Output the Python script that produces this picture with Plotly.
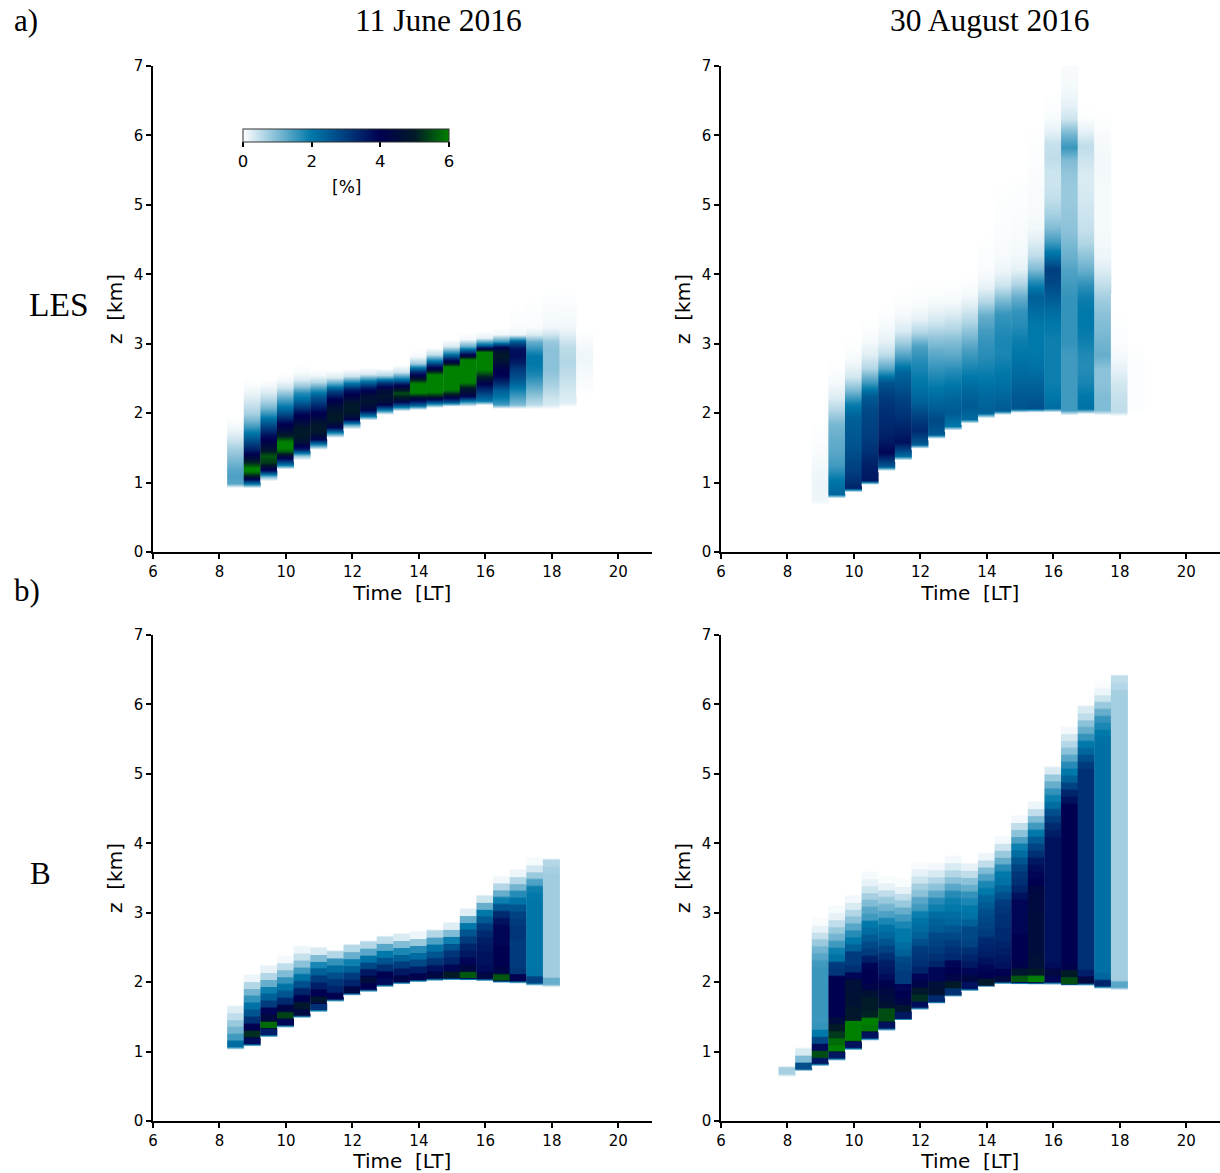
import plotly.graph_objects as go

# ---- data: each column = one half-hour profile. base = bottom height [km], values every 0.1 or 0.2 km ----
TICKS_X = [6, 8, 10, 12, 14, 16, 18, 20]
TICKS_Y = [0, 1, 2, 3, 4, 5, 6, 7]
CB_TICKS = [0, 2, 4, 6]

times_les_jun = [8.5, 9, 9.5, 10, 10.5, 11, 11.5, 12, 12.5, 13, 13.5, 14, 14.5, 15, 15.5, 16, 16.5, 17, 17.5, 18, 18.5, 19]
bases_les_jun = [.93, .93, 1.03, 1.2, 1.33, 1.48, 1.65, 1.77, 1.9, 1.98, 2.03, 2.05, 2.08, 2.1, 2.1, 2.12, 2.07, 2.07, 2.07, 2.07, 2.1, 2.28]
profiles_les_jun = [
    [1.3, 1.4, 1.3, 1.1, .9, .7, .45, .25, .1, .03],
    [2.0, 4.8, 6.3, 5.2, 4.2, 3.4, 2.8, 2.2, 1.6, 1.1, .7, .5, .3, .15, .05],
    [1.0, 4.0, 5.3, 5.6, 4.7, 4.2, 3.7, 3.0, 2.3, 1.6, 1.0, .6, .3, .1],
    [2.0, 4.0, 5.7, 6.4, 5.2, 4.4, 3.9, 3.0, 2.2, 1.6, 1.0, .4, .1],
    [.8, 3.6, 4.6, 5.0, 4.9, 4.3, 3.9, 3.0, 2.2, 1.7, .8, .25, .05],
    [1.5, 4.2, 4.9, 4.9, 4.3, 3.8, 3.1, 2.5, 1.6, .6, .1],
    [1.5, 4.2, 5.0, 4.9, 4.5, 3.9, 3.0, 1.5, .3],
    [1.2, 4.4, 5.0, 4.9, 4.3, 3.6, 2.0, .4],
    [2.0, 4.3, 4.8, 4.5, 3.6, 2.0, .3],
    [1.8, 4.4, 4.8, 4.5, 3.0, .6],
    [2.0, 4.6, 5.5, 4.2, 2.0, .4],
    [2.2, 4.4, 6.3, 6.3, 4.6, 3.0, .8, .1],
    [2.0, 5.0, 6.5, 6.5, 6.3, 4.3, 2.2, .5],
    [2.5, 4.8, 6.3, 6.5, 6.5, 6.2, 3.8, 1.8, .3],
    [1.5, 4.2, 4.9, 6.2, 6.5, 6.5, 6.3, 3.5, 1.2, .1],
    [2.0, 2.8, 3.6, 4.6, 5.6, 6.4, 6.5, 6.0, 2.2, .2],
    [1.5, 2.0, 2.4, 3.2, 3.9, 4.1, 4.6, 5.0, 4.4, 1.5, .1],
    [1.0, 1.4, 1.8, 2.3, 2.7, 3.0, 3.5, 3.8, 3.7, 2.5, .15, .05, .03, .02],
    [.5, .8, 1.1, 1.4, 1.7, 1.9, 2.0, 2.0, 1.6, 1.2, .3, .05, .04, .03, .02, .01],
    [.3, .4, .55, .7, .8, .9, .9, .9, .9, .8, .4, .12, .08, .06, .05, .03, .015],
    [.25, .3, .35, .42, .5, .55, .6, .55, .5, .35, .2, .1, .08, .06, .04, .02],
    [.03, .05, .07, .1, .12, .12, .1, .06, .02],
]

times_les_aug = [9, 9.5, 10, 10.5, 11, 11.5, 12, 12.5, 13, 13.5, 14, 14.5, 15, 15.5, 16, 16.5, 17, 17.5, 18, 18.5]
bases_les_aug = [.68, .78, .87, .98, 1.18, 1.33, 1.5, 1.64, 1.76, 1.86, 1.94, 1.98, 2.01, 2.02, 2.01, 1.98, 2.0, 1.98, 1.96, 1.98]
profiles_les_aug = [
    [.12, .15, .12, .08, .04, .02],
    [2.3, 2.0, 1.5, 1.3, 1.2, 1.05, .6, .25, .08, .02],
    [3.4, 3.0, 2.8, 2.6, 2.5, 2.4, 1.9, 1.0, .35, .1, .02],
    [3.6, 3.5, 3.2, 3.0, 2.9, 2.8, 2.5, 1.5, .6, .25, .08, .02],
    [2.5, 3.9, 3.5, 3.3, 3.2, 3.0, 2.6, 1.3, .5, .2, .08, .02],
    [2.2, 3.7, 3.4, 3.1, 2.9, 2.6, 2.3, 1.5, .8, .3, .1, .03],
    [2.5, 3.3, 2.9, 2.4, 2.1, 1.9, 1.7, 1.4, .6, .2, .05, .02],
    [2.5, 2.8, 2.4, 2.1, 1.8, 1.5, 1.2, .8, .4, .15, .03],
    [2.0, 2.5, 2.3, 2.0, 1.7, 1.3, 1.0, .6, .3, .08, .02],
    [2.2, 2.5, 2.3, 2.0, 1.7, 1.4, 1.0, .6, .3, .08, .02],
    [2.4, 2.3, 2.1, 1.9, 1.7, 1.6, 1.45, 1.2, .6, .2, .06, .03, .02],
    [2.5, 2.3, 2.1, 1.95, 1.8, 1.8, 1.7, 1.55, 1.0, .4, .15, .07, .05, .04, .03, .02, .01],
    [2.6, 2.5, 2.3, 2.15, 2.0, 1.9, 1.7, 1.6, 1.2, .6, .2, .1, .07, .05, .04, .03, .02],
    [2.7, 2.5, 2.3, 2.1, 2.0, 2.0, 2.0, 2.2, 2.4, 1.8, 1.0, .5, .25, .1, .07, .06, .05, .04, .03, .02, .01],
    [2.2, 2.0, 1.9, 1.9, 1.9, 1.9, 2.0, 2.2, 2.5, 2.8, 2.95, 2.2, 1.5, 1.0, .7, .5, .4, .4, .5, .45, .2, .06, .02],
    [1.5, 1.5, 1.5, 1.5, 1.5, 1.6, 1.6, 1.6, 1.6, 1.5, 1.4, 1.2, 1.05, .9, .85, .8, .8, .85, 1.0, 1.55, 1.05, .4, .2, .1, .07, .05],
    [2.1, 2.0, 1.8, 1.7, 1.75, 1.9, 2.0, 2.0, 1.9, 1.6, 1.2, .9, .6, .45, .4, .35, .3, .3, .4, .5, .2, .02],
    [1.0, 1.0, .9, .9, 1.2, 1.1, 1.0, .9, .75, .5, .3, .15, .1, .08, .08, .08, .08, .1, .1, .08, .05, .01],
    [.5, .45, .35, .2, .08, .04, .02, .01],
    [.03, .03, .03, .03, .02],
]

times_b_jun = [8.5, 9, 9.5, 10, 10.5, 11, 11.5, 12, 12.5, 13, 13.5, 14, 14.5, 15, 15.5, 16, 16.5, 17, 17.5, 18]
bases_b_jun = [1.06, 1.11, 1.24, 1.38, 1.52, 1.6, 1.75, 1.84, 1.89, 1.96, 2.0, 2.03, 2.05, 2.06, 2.06, 2.05, 2.03, 2.02, 1.99, 1.97]
profiles_b_jun = [
    [2.2, 1.5, 1.1, .8, .5, .25],
    [3.8, 5.2, 4.0, 3.2, 2.6, 2.1, 1.6, 1.1, .6, .15],
    [3.5, 5.8, 4.4, 3.9, 3.0, 2.4, 1.9, 1.2, .6, .2],
    [3.9, 5.4, 4.2, 3.3, 2.6, 2.1, 1.6, 1.0, .5, .1],
    [4.4, 4.9, 4.0, 3.4, 2.7, 2.1, 1.5, .9, .45, .15],
    [3.2, 4.8, 4.0, 3.5, 3.0, 2.4, 1.8, 1.0, .3],
    [4.0, 3.4, 3.1, 2.7, 2.2, 1.6, .6],
    [4.3, 3.4, 3.0, 2.4, 1.9, 1.2, .6],
    [4.0, 4.5, 3.6, 2.8, 2.1, 1.3, .6],
    [3.8, 4.0, 3.2, 2.6, 2.0, 1.3, .5],
    [4.2, 3.6, 3.0, 2.4, 1.8, 1.0, .3],
    [4.1, 3.5, 2.8, 2.2, 1.7, .8, .15],
    [4.3, 3.7, 3.1, 2.6, 2.1, 1.4, .6],
    [5.0, 3.9, 3.4, 3.1, 2.6, 1.9, 1.0, .25],
    [5.6, 4.3, 3.9, 3.6, 3.4, 3.0, 2.6, 2.0, 1.2, .25],
    [4.3, 3.8, 3.7, 3.7, 3.6, 3.5, 3.3, 3.0, 2.5, 2.0, 1.2, .4],
    [5.6, 4.2, 4.0, 4.0, 4.0, 3.9, 3.9, 3.9, 3.7, 3.3, 2.6, 1.9, 1.2, .6, .12],
    [4.0, 3.1, 3.0, 3.0, 3.0, 3.0, 3.1, 3.1, 3.0, 2.9, 2.6, 2.1, 1.7, 1.1, .6, .15],
    [2.9, 2.1, 2.05, 2.05, 2.05, 2.05, 2.05, 2.05, 2.05, 2.05, 2.05, 2.05, 2.0, 1.9, 1.4, .8, .35, .08],
    [1.2, .75, .75, .75, .75, .75, .75, .75, .75, .75, .75, .75, .75, .75, .75, .75, .7, .6],
]

times_b_aug = [8, 8.5, 9, 9.5, 10, 10.5, 11, 11.5, 12, 12.5, 13, 13.5, 14, 14.5, 15, 15.5, 16, 16.5, 17, 17.5, 18]
bases_b_aug = [.68, .75, .82, .9, 1.05, 1.19, 1.33, 1.48, 1.63, 1.72, 1.82, 1.91, 1.96, 2.0, 2.0, 2.0, 2.0, 1.98, 1.98, 1.94, 1.92]
profiles_b_aug = [
    [.7],
    [2.7, 1.0, .3],
    [3.6, 5.5, 3.8, 2.8, 2.0, 1.6, 1.55, 1.55, 1.55, 1.55, 1.55, 1.55, 1.55, 1.55, 1.5, 1.3, 1.1, .8, .45, .2, .05],
    [3.6, 6.0, 5.8, 5.3, 5.0, 4.5, 4.0, 4.0, 4.0, 4.0, 4.0, 4.0, 3.1, 3.0, 2.1, 1.9, 1.5, 1.1, .8, .5, .2, .08],
    [3.7, 6.0, 6.0, 6.0, 4.9, 4.9, 4.7, 4.7, 4.6, 4.6, 3.9, 3.2, 3.0, 3.0, 2.4, 2.0, 1.7, 1.3, .9, .6, .3, .1],
    [3.7, 5.9, 6.0, 5.1, 5.0, 5.0, 4.7, 4.2, 4.0, 4.0, 3.9, 3.5, 3.0, 2.8, 2.5, 2.2, 2.0, 1.5, 1.3, 1.0, .7, .4, .2, .08],
    [3.7, 5.5, 5.5, 4.7, 4.5, 4.3, 4.1, 3.8, 3.6, 3.5, 3.2, 2.9, 2.6, 2.3, 2.1, 1.8, 1.4, 1.1, .8, .5, .2, .05],
    [3.6, 4.8, 4.2, 4.0, 3.9, 3.0, 3.0, 2.9, 2.8, 2.4, 2.2, 2.0, 2.0, 1.8, 1.5, 1.2, .8, .5, .2, .05],
    [3.8, 5.2, 4.9, 4.2, 3.9, 3.4, 3.2, 3.1, 3.0, 2.7, 2.4, 2.2, 2.1, 1.9, 1.5, 1.3, .9, .7, .4, .2, .05],
    [3.3, 4.7, 4.6, 3.9, 3.9, 3.4, 3.2, 3.0, 2.9, 2.8, 2.5, 2.4, 2.2, 1.9, 1.7, 1.3, .9, .6, .3, .1],
    [3.2, 5.0, 4.2, 4.0, 3.9, 3.3, 3.2, 3.0, 2.8, 2.6, 2.3, 2.2, 2.0, 1.9, 1.7, 1.3, .9, .6, .3, .1],
    [3.7, 4.3, 3.9, 3.6, 3.4, 3.2, 2.9, 2.8, 2.8, 2.4, 2.1, 2.0, 1.8, 1.6, 1.2, .9, .5, .2],
    [4.9, 4.0, 3.9, 3.7, 3.5, 3.4, 3.3, 3.0, 2.9, 2.8, 2.7, 2.5, 2.3, 2.0, 1.8, 1.4, 1.0, .5, .15],
    [4.4, 4.0, 3.7, 3.6, 3.5, 3.4, 3.3, 3.3, 3.2, 3.2, 3.1, 3.0, 2.7, 2.4, 2.1, 2.0, 1.7, 1.2, .8, .4, .1],
    [5.6, 4.8, 4.1, 4.0, 4.0, 4.0, 4.0, 3.9, 3.9, 3.9, 3.9, 3.9, 3.7, 3.4, 3.2, 3.1, 2.9, 2.6, 2.2, 1.9, 1.4, .9, .5, .1],
    [6.0, 5.0, 4.6, 4.6, 4.5, 4.5, 4.5, 4.5, 4.5, 4.5, 4.4, 4.4, 4.4, 4.3, 4.0, 3.9, 3.8, 3.6, 3.2, 2.9, 2.5, 2.0, 1.5, 1.0, .5, .15],
    [3.9, 4.4, 3.8, 3.7, 3.7, 3.7, 3.7, 3.7, 3.7, 3.7, 3.7, 3.7, 3.7, 3.7, 3.7, 3.7, 3.7, 3.7, 3.7, 3.7, 3.7, 3.5, 3.3, 3.0, 2.7, 2.2, 1.9, 1.6, 1.2, .8, .3],
    [5.5, 5.0, 4.1, 4.0, 4.0, 4.0, 4.0, 4.0, 4.0, 4.0, 4.0, 4.0, 4.0, 4.0, 4.0, 4.0, 4.0, 4.0, 4.0, 4.0, 4.0, 4.0, 4.0, 4.0, 4.0, 4.0, 3.7, 3.4, 2.9, 2.4, 2.0, 1.7, 1.3, .9, .6, .35, .1],
    [4.4, 3.5, 3.2, 3.2, 3.2, 3.2, 3.2, 3.2, 3.2, 3.2, 3.2, 3.2, 3.2, 3.2, 3.2, 3.2, 3.2, 3.2, 3.2, 3.2, 3.2, 3.2, 3.2, 3.2, 3.2, 3.2, 3.2, 3.2, 3.2, 3.2, 3.2, 3.0, 2.7, 2.3, 2.0, 1.6, 1.2, .9, .5, .3],
    [3.4, 2.3, 2.15, 2.15, 2.15, 2.15, 2.15, 2.15, 2.15, 2.15, 2.15, 2.15, 2.15, 2.15, 2.15, 2.15, 2.15, 2.15, 2.15, 2.15, 2.15, 2.15, 2.15, 2.15, 2.15, 2.15, 2.15, 2.15, 2.15, 2.15, 2.15, 2.15, 2.15, 2.15, 2.15, 2.1, 2.0, 1.8, 1.6, 1.2, .8, .4, .15, .05],
    [1.3, .72, .72, .72, .72, .72, .72, .72, .72, .72, .72, .72, .72, .72, .72, .72, .72, .72, .72, .72, .72, .72, .72, .72, .72, .72, .72, .72, .72, .72, .72, .72, .72, .72, .72, .72, .72, .72, .72, .72, .72, .72, .7, .6, .5],
]

COLORS = [[0, "#ffffff"], [1 / 3, "#0078aa"], [2 / 3, "#000050"], [5 / 6, "#001a28"], [1, "#008000"]]
W, H = 1220, 1173
SERIF = "Liberation Serif"
SANS = "DejaVu Sans"
NB = "\u00a0"
T_SHIFT = -0.02
WIDTH = 0.5

panels = [
    (1, times_les_jun, bases_les_jun, profiles_les_jun, 0.1, "ramp", 153, 66),
    (2, times_les_aug, bases_les_aug, profiles_les_aug, 0.2, "ramp", 721, 66),
    (3, times_b_jun, bases_b_jun, profiles_b_jun, 0.1, "bands", 153, 635),
    (4, times_b_aug, bases_b_aug, profiles_b_aug, 0.1, "bands", 721, 635),
]

fig = go.Figure()
for idx, times, bases, profs, step, mode, left, top in panels:
    suffix = "" if idx == 1 else str(idx)
    for t, b, p in zip(times, bases, profs):
        c = t + T_SHIFT
        xs = [c - WIDTH / 4, c + WIDTH / 4]
        if mode == "ramp":
            ys = [b] + [b + 0.06 + step * i for i in range(len(p) + 1)]
            vals = [0] + list(p) + [0]
        else:
            # plateau per level, with a soft 3 px blend between neighbouring levels
            ys, vals = [b - 0.03], [0]
            for i, v in enumerate(p):
                ys += [b + step * i + 0.012, b + step * (i + 1) - 0.012]
                vals += [v, v]
            ys.append(b + step * len(p) + 0.02)
            vals.append(0)
        fig.add_trace(go.Heatmap(
            x=xs, y=ys, z=[[v, v] for v in vals], zsmooth="best",
            coloraxis="coloraxis", xaxis="x" + suffix, yaxis="y" + suffix,
            hoverinfo="skip",
        ))
    axis_common = dict(
        showgrid=False, zeroline=False, showline=True, linecolor="black", linewidth=1.5,
        ticks="outside", ticklen=5, tickwidth=1.5, tickcolor="black",
        tickfont=dict(family=SANS, size=15, color="black"),
    )
    fig.update_layout({
        "xaxis" + suffix: dict(
            axis_common, range=[6, 21], tickvals=TICKS_X,
            domain=[left / W, (left + 498.6) / W],
            anchor="y" + suffix,
            title=dict(text=f"Time{NB}{NB}[LT]", font=dict(family=SANS, size=20, color="black"), standoff=6),
        ),
        "yaxis" + suffix: dict(
            axis_common, range=[0, 7], tickvals=TICKS_Y,
            domain=[1 - (top + 486) / H, 1 - top / H],
            anchor="x" + suffix,
            title=dict(text=f"z{NB}{NB}[km]", font=dict(family=SANS, size=20, color="black"), standoff=6),
        ),
    })

annots = [
    ("a)", 11.5, 21, "left", SERIF, 31), ("b)", 11.5, 590, "left", SERIF, 31),
    ("11 June 2016", 438, 21, "center", SERIF, 31.5), ("30 August 2016", 990, 21, "center", SERIF, 31.5),
    ("LES", 27, 304, "left", SERIF, 33.5), ("B", 28, 873, "left", SERIF, 31),
    ("[%]", 346, 187, "center", SANS, 17),
]
for text, px, py, anchor, fam, size in annots:
    fig.add_annotation(
        text=text, x=px / W, y=1 - py / H, xref="paper", yref="paper",
        xanchor=anchor, yanchor="middle", showarrow=False,
        font=dict(family=fam, size=size, color="black"),
    )

fig.update_layout(
    width=W, height=H, autosize=False, margin=dict(l=0, r=0, t=0, b=0, pad=0, autoexpand=False),
    paper_bgcolor="white", plot_bgcolor="white", showlegend=False,
    coloraxis=dict(
        colorscale=COLORS, cmin=0, cmax=6,
        colorbar=dict(
            orientation="h", x=243 / W, xanchor="left", y=1 - 129 / H, yanchor="top",
            len=206, lenmode="pixels", thickness=13, thicknessmode="pixels",
            xpad=0, ypad=0, outlinecolor="#333333", outlinewidth=1, borderwidth=0,
            tickvals=CB_TICKS, ticks="outside", ticklen=5, tickwidth=1.5, tickcolor="black",
            tickfont=dict(family=SANS, size=16.5, color="black"),
        ),
    ),
)
fig.write_html("out.html", config=dict(displayModeBar=False), post_script="document.body.style.margin='0';")
